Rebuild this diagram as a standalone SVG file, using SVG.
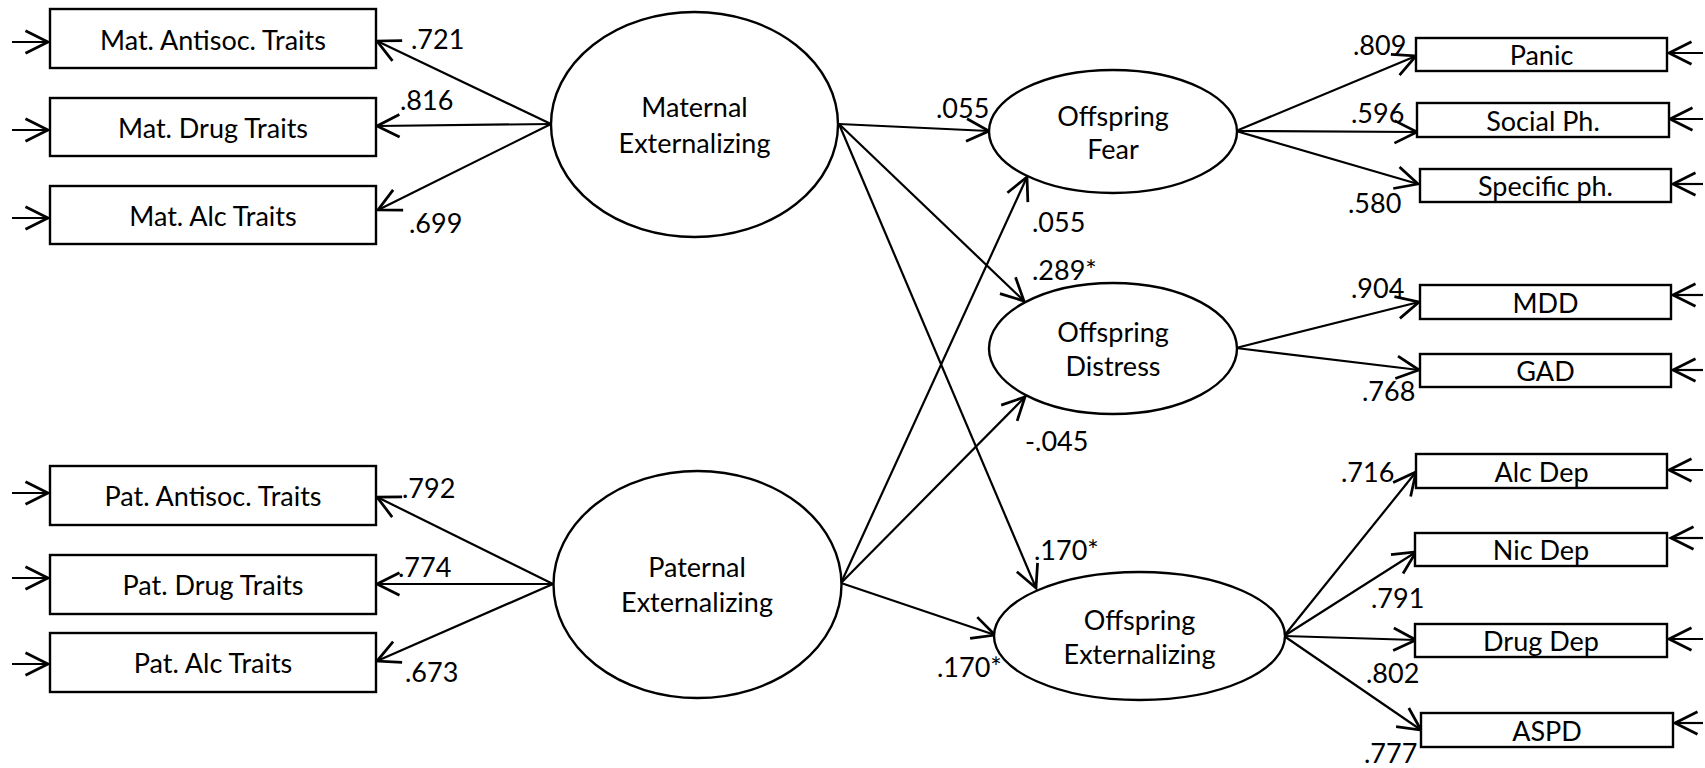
<svg xmlns="http://www.w3.org/2000/svg" width="1705" height="768" viewBox="0 0 1705 768">
<defs>
<style>
.box{fill:#fff;stroke:#000;stroke-width:2.4}
.lat{fill:#fff;stroke:#000;stroke-width:2.4}
.t{font-family:Lato,"Liberation Sans",sans-serif;font-size:27px;fill:#000;text-anchor:middle}
.l{font-family:Lato,"Liberation Sans",sans-serif;font-size:27px;fill:#000}
.c{fill:none;stroke:#000;stroke-width:2.2;marker-end:url(#ah)}
</style>
<marker id="ah" markerUnits="userSpaceOnUse" orient="auto" markerWidth="30" markerHeight="30" refX="0" refY="0" viewBox="-20 -12 24 24" overflow="visible">
<path d="M-18,-9 L0,0 L-18,9" fill="none" stroke="#000" stroke-width="2.2"/>
</marker>
</defs>
<rect width="1705" height="768" fill="#fff"/>

<g id="connectors">
<!-- left error arrows -->
<line class="c" x1="12" y1="42" x2="48" y2="42"/>
<line class="c" x1="12" y1="130" x2="48" y2="130"/>
<line class="c" x1="12" y1="218" x2="48" y2="218"/>
<line class="c" x1="12" y1="493" x2="48" y2="493"/>
<line class="c" x1="12" y1="578" x2="48" y2="578"/>
<line class="c" x1="12" y1="664" x2="48" y2="664"/>
<!-- right error arrows -->
<line class="c" x1="1703" y1="53" x2="1669" y2="53"/>
<line class="c" x1="1703" y1="119" x2="1670" y2="119"/>
<line class="c" x1="1703" y1="184" x2="1673" y2="184"/>
<line class="c" x1="1703" y1="295" x2="1673" y2="295"/>
<line class="c" x1="1703" y1="370" x2="1673" y2="370"/>
<line class="c" x1="1703" y1="470" x2="1669" y2="470"/>
<line class="c" x1="1703" y1="538" x2="1671" y2="538"/>
<line class="c" x1="1703" y1="639" x2="1669" y2="639"/>
<line class="c" x1="1703" y1="723" x2="1675" y2="723"/>
<!-- maternal loadings -->
<line class="c" x1="551" y1="124" x2="377" y2="41"/>
<line class="c" x1="551" y1="124" x2="377" y2="126"/>
<line class="c" x1="551" y1="124" x2="378" y2="210"/>
<!-- paternal loadings -->
<line class="c" x1="553" y1="584" x2="377" y2="497"/>
<line class="c" x1="553" y1="584" x2="377" y2="584"/>
<line class="c" x1="553" y1="584" x2="377" y2="661"/>
<!-- structural paths -->
<line class="c" x1="839" y1="124" x2="989" y2="131"/>
<line class="c" x1="839" y1="124" x2="1024" y2="301"/>
<line class="c" x1="839" y1="124" x2="1036" y2="588"/>
<line class="c" x1="841" y1="583" x2="1027" y2="177"/>
<line class="c" x1="841" y1="583" x2="1025" y2="397"/>
<line class="c" x1="841" y1="583" x2="995" y2="635"/>
<!-- fear indicators -->
<line class="c" x1="1236" y1="131" x2="1416" y2="56"/>
<line class="c" x1="1236" y1="131" x2="1417" y2="132"/>
<line class="c" x1="1236" y1="131" x2="1418" y2="184"/>
<!-- distress indicators -->
<line class="c" x1="1236" y1="348" x2="1419" y2="302"/>
<line class="c" x1="1236" y1="348" x2="1419" y2="370"/>
<!-- externalizing indicators -->
<line class="c" x1="1284" y1="636" x2="1416" y2="472"/>
<line class="c" x1="1284" y1="636" x2="1416" y2="552"/>
<line class="c" x1="1284" y1="636" x2="1416" y2="640"/>
<line class="c" x1="1284" y1="636" x2="1421" y2="730"/>
</g>

<g id="edge-labels">
<text class="l" x="411" y="49">.721</text>
<text class="l" x="400" y="110">.816</text>
<text class="l" x="409" y="233">.699</text>
<text class="l" x="402" y="498">.792</text>
<text class="l" x="398" y="577">.774</text>
<text class="l" x="405" y="682">.673</text>
<text class="l" x="936" y="118">.055</text>
<text class="l" x="1032" y="232">.055</text>
<text class="l" x="1032" y="280">.289*</text>
<text class="l" x="1025" y="451">-.045</text>
<text class="l" x="1034" y="560">.170*</text>
<text class="l" x="937" y="677">.170*</text>
<text class="l" x="1353" y="55">.809</text>
<text class="l" x="1351" y="123">.596</text>
<text class="l" x="1348" y="213">.580</text>
<text class="l" x="1351" y="298">.904</text>
<text class="l" x="1362" y="401">.768</text>
<text class="l" x="1341" y="482">.716</text>
<text class="l" x="1371" y="608">.791</text>
<text class="l" x="1366" y="683">.802</text>
<text class="l" x="1364" y="763">.777</text>
</g>

<g id="mat-antisoc"><rect class="box" x="50" y="9" width="326" height="59"/><text class="t" x="213" y="49.5">Mat. Antisoc. Traits</text></g>
<g id="mat-drug"><rect class="box" x="50" y="98" width="326" height="58"/><text class="t" x="213" y="137.5">Mat. Drug Traits</text></g>
<g id="mat-alc"><rect class="box" x="50" y="186" width="326" height="58"/><text class="t" x="213" y="225.5">Mat. Alc Traits</text></g>
<g id="pat-antisoc"><rect class="box" x="50" y="466" width="326" height="59"/><text class="t" x="213" y="506">Pat. Antisoc. Traits</text></g>
<g id="pat-drug"><rect class="box" x="50" y="555" width="326" height="59"/><text class="t" x="213" y="595">Pat. Drug Traits</text></g>
<g id="pat-alc"><rect class="box" x="50" y="633" width="326" height="59"/><text class="t" x="213" y="673">Pat. Alc Traits</text></g>

<g id="maternal"><ellipse class="lat" cx="694.5" cy="124.5" rx="143.5" ry="112.5"/><text class="t" x="694.5" y="117">Maternal</text><text class="t" x="694.5" y="153">Externalizing</text></g>
<g id="paternal"><ellipse class="lat" cx="697.5" cy="584.5" rx="144" ry="113.5"/><text class="t" x="697" y="577">Paternal</text><text class="t" x="697" y="612">Externalizing</text></g>

<g id="fear"><ellipse class="lat" cx="1113" cy="131.5" rx="124" ry="61.5"/><text class="t" x="1113" y="126">Offspring</text><text class="t" x="1113" y="159">Fear</text></g>
<g id="distress"><ellipse class="lat" cx="1113" cy="348.5" rx="124" ry="65.5"/><text class="t" x="1113" y="342">Offspring</text><text class="t" x="1113" y="376">Distress</text></g>
<g id="externalizing"><ellipse class="lat" cx="1139.5" cy="636" rx="145.5" ry="64"/><text class="t" x="1139.5" y="630">Offspring</text><text class="t" x="1139.5" y="664">Externalizing</text></g>

<g id="panic"><rect class="box" x="1416" y="38" width="251" height="33"/><text class="t" x="1541.5" y="65">Panic</text></g>
<g id="social"><rect class="box" x="1417" y="103" width="252" height="34"/><text class="t" x="1543" y="130.5">Social Ph.</text></g>
<g id="specific"><rect class="box" x="1420" y="169" width="251" height="33"/><text class="t" x="1545.5" y="196">Specific ph.</text></g>
<g id="mdd"><rect class="box" x="1420" y="285" width="251" height="34"/><text class="t" x="1545.5" y="312.5">MDD</text></g>
<g id="gad"><rect class="box" x="1420" y="354" width="251" height="33"/><text class="t" x="1545.5" y="381">GAD</text></g>
<g id="alcdep"><rect class="box" x="1416" y="454" width="251" height="34"/><text class="t" x="1541.5" y="481.5">Alc Dep</text></g>
<g id="nicdep"><rect class="box" x="1415" y="533" width="252" height="33"/><text class="t" x="1541" y="560">Nic Dep</text></g>
<g id="drugdep"><rect class="box" x="1415" y="624" width="252" height="33"/><text class="t" x="1541" y="651">Drug Dep</text></g>
<g id="aspd"><rect class="box" x="1421" y="713" width="252" height="34"/><text class="t" x="1547" y="740.5">ASPD</text></g>
</svg>
